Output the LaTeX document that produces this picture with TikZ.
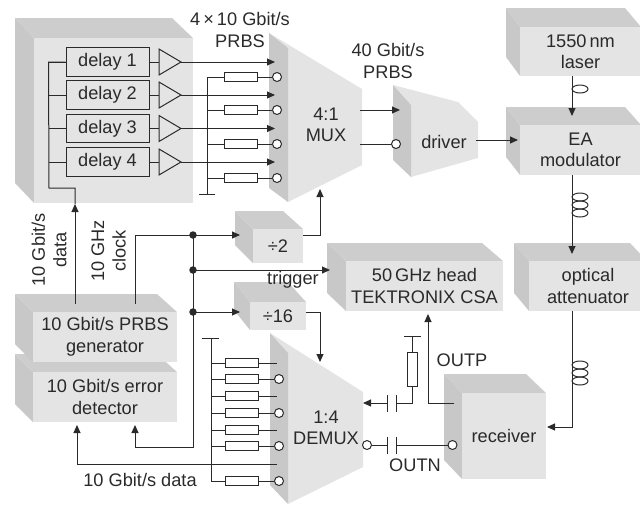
\documentclass[tikz,border=0pt]{standalone}
\usepackage{fontspec}
\setmainfont{Liberation Sans}
\usetikzlibrary{arrows.meta}

\definecolor{frontgray}{HTML}{E4E4E4}
\definecolor{topgray}{HTML}{CDCDCD}
\definecolor{sidegray}{HTML}{C8C8C8}
\definecolor{ink}{HTML}{2A2A2A}

\tikzset{
  lbl/.style={font=\fontsize{18.2}{21.5}\selectfont,align=center,text=ink,inner sep=0pt},
  frontbox/.style={lbl,fill=frontgray,shape=rectangle},
  delaybox/.style={lbl,draw=ink,fill=frontgray,minimum width=83pt,minimum height=28.5pt},
  res/.style={draw=ink,fill=white,minimum width=33pt,minimum height=9pt,inner sep=0pt},
  port/.style={draw=ink,fill=white,circle,minimum size=9pt,inner sep=0pt},
  dot/.style={fill=ink,circle,minimum size=7.5pt,inner sep=0pt},
  arrow/.style={-{Triangle[length=8pt,width=7pt]}},
}

\newcommand{\blockbox}[8]{%
  \fill[sidegray] (#2-#6,#3-#7) -- (#2,#3) -- (#2,#5) -- (#2-#6,#5-#7) -- cycle;
  \fill[topgray] (#2-#6,#3-#7) -- (#2,#3) -- (#4,#3) -- (#4-#6-2,#3-#7) -- cycle;
  \node[frontbox,minimum width=#4pt-#2pt,minimum height=#5pt-#3pt] (#1) at ({(#2+#4)/2},{(#3+#5)/2}) {#8};
}
\newcommand{\coilmark}[1]{%
  \draw (#1) ++(8,-8) ellipse [x radius=8pt,y radius=4pt];
  \draw (#1) ++(8,0) ellipse [x radius=8pt,y radius=4pt];
  \draw (#1) ++(8,8) ellipse [x radius=8pt,y radius=4pt];
}

\begin{document}
\begin{tikzpicture}[x=1pt,y=-1pt,draw=ink,line width=1pt]
  \useasboundingbox (0,0) rectangle (640,504);
  \clip (0,0) rectangle (640,504);

  \blockbox{delayblock}{34}{38}{193}{203}{19}{20}{}
  \blockbox{laser}{520}{27}{641}{76}{14}{19}{1550\,nm\\laser}
  \blockbox{eam}{520}{125}{641}{175}{14}{18}{EA\\modulator}
  \blockbox{atten}{529}{261}{647}{311}{15}{18}{optical\\attenuator}
  \blockbox{scope}{346}{261}{503}{311}{19}{18}{50\,GHz head\\TEKTRONIX CSA}
  \blockbox{receiver}{462}{393}{546}{479}{18}{19}{receiver}
  \blockbox{divtwo}{253}{229}{303}{263}{18}{18}{\raisebox{-1pt}{÷2}}
  \blockbox{divsixteen}{250}{302}{306}{330}{16}{20}{÷16}
  \blockbox{errdet}{33}{372}{177}{422}{18}{18}{10 Gbit/s error\\detector}
  \blockbox{prbsgen}{33}{312}{177}{362}{18}{18}{10 Gbit/s PRBS\\generator}

  \fill[frontgray] (269,33) -- (362,89) -- (362,165) -- (288,202) -- (288,48) -- cycle;
  \fill[sidegray] (269,33) -- (288,48) -- (288,202) -- (269,188) -- cycle;
  \fill[frontgray] (270,333) -- (363,392) -- (363,467) -- (288,504) -- (288,353) -- cycle;
  \fill[sidegray] (270,333) -- (288,353) -- (288,504) -- (270,485) -- cycle;
  \fill[frontgray] (393,85) -- (458,102) -- (478,122) -- (478,158) -- (411,177) -- (411,105) -- cycle;
  \fill[sidegray] (393,85) -- (411,105) -- (411,177) -- (393,160) -- cycle;

  \node[lbl] (mux) at (326,125) {4:1\\MUX};
  \node[lbl] (demux) at (326,428) {1:4\\DEMUX};
  \node[lbl] (driver) at (444,142) {driver};
  \node[lbl] (muxrate) at (240,30) {4\,×\,10 Gbit/s\\PRBS};
  \node[lbl] (outrate) at (388,61) {40 Gbit/s\\PRBS};
  \node[lbl,rotate=90] (datalabel) at (49,250) {10 Gbit/s\\data};
  \node[lbl,rotate=90] (clocklabel) at (108.5,251) {10 GHz\\clock};
  \node[lbl] (triggerlabel) at (293,280) {trigger};
  \node[lbl] (outplabel) at (462,360) {OUTP};
  \node[lbl] (outnlabel) at (415,465) {OUTN};
  \node[lbl] (datarx) at (140,480) {10 Gbit/s data};

  \coordinate (busbend) at (75,188);
  \coordinate (delayin) at (75,204);
  \coordinate (prbsdata) at (75,304);
  \coordinate (prbsclock) at (135,304);
  \coordinate (clockbend) at (135,235);
  \coordinate (muxbusend) at (207,194);

  \foreach \i/\y in {1/62,2/95,3/128.5,4/162}{
    \node[delaybox] (delay\i) at (107.5,\y) {delay \i};
    \coordinate (ampin\i) at (159,\y);
    \coordinate (ampout\i) at (181,\y);
    \coordinate (muxin\i) at (275,\y);
    \draw (delay\i.east) -- (ampin\i);
    \draw (159,\y-13) -- (ampout\i) -- (159,\y+13) -- cycle;
    \draw[arrow] (ampout\i) -- (muxin\i);
    \draw (delay\i.west) -- ++(-17,0);
  }
  \draw (delay1.west) -- ++(-17,0) -- (49,188) -- (busbend) -- (delayin);
  \draw[arrow] (prbsdata) -- (delayin);

  \foreach \i/\y in {1/77,2/110,3/144,4/178}{
    \node[res] (muxres\i) at (240.5,\y) {};
    \node[port] (muxport\i) at (277,\y) {};
    \coordinate (muxbus\i) at (207,\y);
    \draw (muxbus\i) -- (muxres\i.west);
    \draw (muxres\i.east) -- (muxport\i.west);
  }
  \draw (muxbus1) -- (muxbusend);
  \draw ([xshift=-8pt]muxbusend) -- ([xshift=8pt]muxbusend);

  \coordinate (muxout) at (360,110);
  \coordinate (driverin) at (400,110);
  \coordinate (muxoutn) at (360,144);
  \node[port] (driverport) at (396,144) {};
  \draw[arrow] (muxout) -- (driverin);
  \draw (muxoutn) -- (driverport.west);

  \coordinate (driverout) at (476,140);
  \coordinate (eamin) at (518,140);
  \draw[arrow] (driverout) -- (eamin);

  \coordinate (laserout) at (572,76);
  \coordinate (eamtop) at (572,116);
  \coordinate (eamout) at (572,175);
  \coordinate (attentop) at (572,254);
  \coordinate (attenout) at (572,311);
  \coordinate (attenbend) at (572,427);
  \coordinate (receiverin) at (547,427);
  \coordinate (lasercoil) at (572,89);
  \coordinate (eamcoil) at (572,205);
  \coordinate (attencoil) at (572,373);
  \draw[arrow] (laserout) -- (eamtop);
  \draw (lasercoil) ++(8,0) ellipse [x radius=8pt,y radius=4pt];
  \draw[arrow] (eamout) -- (attentop);
  \coilmark{eamcoil}
  \draw[arrow] (attenout) -- (attenbend) -- (receiverin);
  \coilmark{attencoil}

  \coordinate (clocknodeA) at (193,235);
  \coordinate (clocknodeB) at (193,270);
  \coordinate (clocknodeC) at (193,312);
  \coordinate (clockdown) at (193,447);
  \coordinate (errbend) at (135,447);
  \coordinate (errclock) at (135,425);
  \coordinate (divtwoin) at (240,235);
  \coordinate (scopein) at (330,270);
  \coordinate (divsixin) at (240,312);
  \draw[arrow] (prbsclock) -- (clockbend) -- (divtwoin);
  \draw[arrow] (clocknodeB) -- (scopein);
  \draw[arrow] (clocknodeC) -- (divsixin);
  \draw[arrow] (clocknodeA) -- (clockdown) -- (errbend) -- (errclock);
  \node[dot] (dotA) at (clocknodeA) {};
  \node[dot] (dotB) at (clocknodeB) {};
  \node[dot] (dotC) at (clocknodeC) {};

  \coordinate (divtwoout) at (303,235);
  \coordinate (divtwobend) at (320,235);
  \coordinate (muxclock) at (320,189);
  \coordinate (divsixout) at (306,312);
  \coordinate (divsixbend) at (320,312);
  \coordinate (demuxclock) at (320,362);
  \draw[arrow] (divtwoout) -- (divtwobend) -- (muxclock);
  \draw[arrow] (divsixout) -- (divsixbend) -- (demuxclock);

  \coordinate (demuxtop) at (211,338);
  \coordinate (demuxbend) at (211,481);
  \draw (demuxtop) -- (demuxbend);
  \draw ([xshift=-9pt]demuxtop) -- ([xshift=8pt]demuxtop);
  \foreach \i/\y in {1/363,3/396,5/430}{
    \node[res] (demuxres\i) at (241.5,\y) {};
    \coordinate (demuxbus\i) at (211,\y);
    \coordinate (demuxend\i) at (277,\y);
    \draw (demuxbus\i) -- (demuxres\i.west);
    \draw (demuxres\i.east) -- (demuxend\i);
  }
  \foreach \i/\y in {2/379,4/413,6/446,7/481}{
    \node[res] (demuxres\i) at (241.5,\y) {};
    \node[port] (demuxport\i) at (279,\y) {};
    \coordinate (demuxbus\i) at (211,\y);
    \draw (demuxbus\i) -- (demuxres\i.west);
    \draw (demuxres\i.east) -- (demuxport\i.west);
  }

  \coordinate (dataout) at (277,464);
  \coordinate (databend) at (77,464);
  \coordinate (errdata) at (77,425);
  \draw[arrow] (dataout) -- (databend) -- (errdata);

  \coordinate (capA) at (387.5,403);
  \coordinate (capB) at (396,403);
  \coordinate (capC) at (387.5,445);
  \coordinate (capD) at (396,445);
  \coordinate (demuxfb) at (363,403);
  \coordinate (rtermbend) at (412.5,403);
  \coordinate (rtermgnd) at (412.5,336);
  \coordinate (outpstart) at (454,403);
  \coordinate (outpbend) at (428,403);
  \coordinate (scopeinb) at (428,314);
  \node[res,minimum width=10pt,minimum height=34pt] (rterm) at (412.5,369) {};
  \node[port] (rxport) at (452.5,445) {};
  \node[port] (demuxportb) at (367,445) {};
  \draw[arrow] (capA) -- (demuxfb);
  \draw (capB) -- (rtermbend) -- (rterm.south);
  \draw (rterm.north) -- (rtermgnd);
  \draw ([xshift=-8.5pt]rtermgnd) -- ([xshift=8.5pt]rtermgnd);
  \draw[arrow] (outpstart) -- (outpbend) -- (scopeinb);
  \draw (demuxportb.east) -- (capC);
  \draw (capD) -- (rxport.west);
  \foreach \c in {capA,capB,capC,capD}{
    \draw ([yshift=-8.5pt]\c) -- ([yshift=8.5pt]\c);
  }
\end{tikzpicture}
\end{document}
